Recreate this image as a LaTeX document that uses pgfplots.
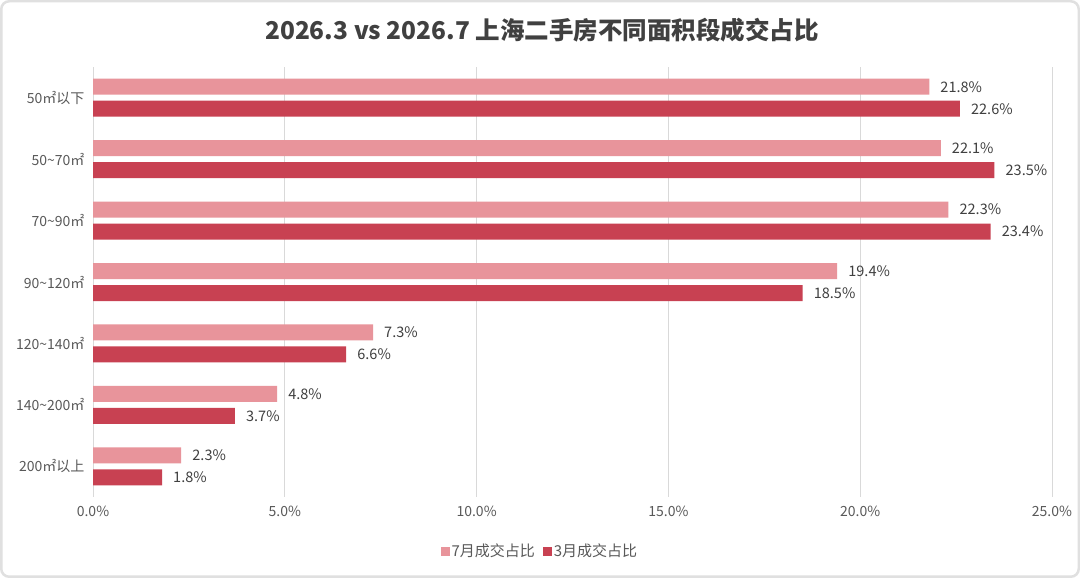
\documentclass[border=0pt]{standalone}
\usepackage{pgfplots}
\pgfplotsset{compat=1.18}
\usepackage{fontspec}
\setmainfont{Noto Sans CJK SC}
\definecolor{lightred}{RGB}{232,148,155}
\definecolor{darkred}{RGB}{200,65,82}
\definecolor{txt}{RGB}{89,89,89}
\definecolor{lbl}{RGB}{64,64,64}
\definecolor{gridc}{RGB}{217,217,217}
\begin{document}
\begin{tikzpicture}[x=1pt,y=1pt]
\fill[white] (0,0) rectangle (1080,578);
\draw[black!12, line width=2.5pt, rounded corners=8pt] (1.25,1.25) rectangle (1078.75,576.75);
\node[font=\fontsize{24.5}{30}\selectfont\bfseries, text=black!75] at (542,548) {2026.3 vs 2026.7 上海二手房不同面积段成交占比};
\begin{axis}[
  at={(93pt,81pt)}, anchor=south west,
  scale only axis, width=959pt, height=430pt,
  xbar, bar width=16pt,
  enlargelimits=false,
  xmin=0, xmax=25, ymin=-0.5, ymax=6.5, y dir=reverse,
  ytick={0,...,6},
  yticklabels={50㎡以下,50\textasciitilde70㎡,70\textasciitilde90㎡,90\textasciitilde120㎡,120\textasciitilde140㎡,140\textasciitilde200㎡,200㎡以上},
  xtick={0,5,10,15,20,25},
  xticklabels={0.0\%,5.0\%,10.0\%,15.0\%,20.0\%,25.0\%},
  major tick length=0pt,
  axis line style={draw=none},
  xmajorgrids, major grid style={gridc, line width=0.8pt},
  ymajorgrids=false,
  /pgf/number format/assume math mode=true,
  ticklabel style={text=txt, font=\fontsize{14}{16}\selectfont},
  yticklabel style={font=\fontsize{14}{15}\selectfont, xshift=-5pt},
  xticklabel style={yshift=-6pt},
  nodes near coords={\pgfmathprintnumber[fixed,precision=1,fixed zerofill,assume math mode=true]{\pgfplotspointmeta}\%},
  point meta=x,
  every node near coord/.append style={anchor=west, inner sep=0pt, xshift=11pt, text=lbl, font=\fontsize{14.5}{16}\selectfont},
  legend style={at={(0.466,-0.1256)}, anchor=center, draw=none, fill=none, legend columns=2,
    font=\fontsize{15}{17}\selectfont, text=txt,
    /tikz/every even column/.append style={column sep=6pt}},
  legend image code/.code={\path[#1,draw=none] (0pt,-4.5pt) rectangle (9pt,4.5pt);},
]
\addplot[fill=lightred, draw=none, bar shift=11pt] coordinates {(21.8,0) (22.1,1) (22.3,2) (19.4,3) (7.3,4) (4.8,5) (2.3,6)};
\addplot[fill=darkred, draw=none, bar shift=-11pt] coordinates {(22.6,0) (23.5,1) (23.4,2) (18.5,3) (6.6,4) (3.7,5) (1.8,6)};
\legend{7月成交占比,3月成交占比}
\end{axis}
\end{tikzpicture}
\end{document}
